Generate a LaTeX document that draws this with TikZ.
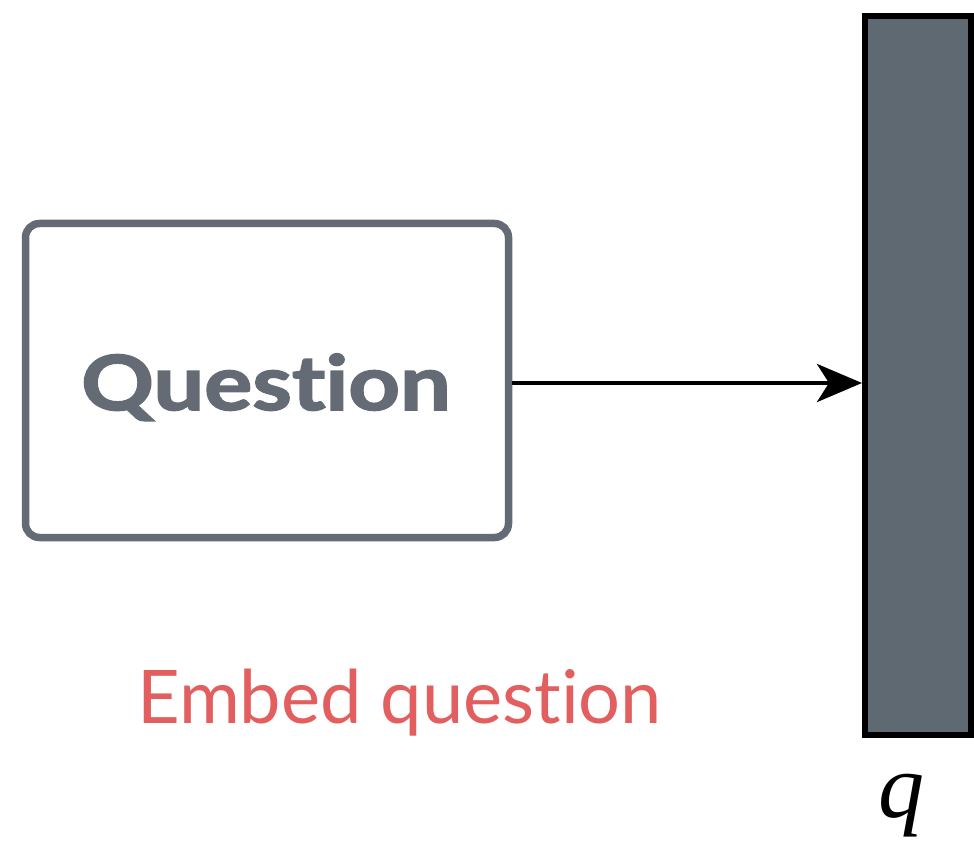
\documentclass[tikz,border=0pt]{standalone}
\usepackage{fontspec}
\setmainfont{Liberation Serif}
\newfontfamily\lato[Ligatures={NoCommon,NoDiscretionary}]{Lato}
\newfontfamily\latoheavy[Ligatures={NoCommon,NoDiscretionary},FakeBold=2]{Lato Bold}
\usetikzlibrary{arrows.meta}
\definecolor{boxgrey}{HTML}{646B75}
\definecolor{barfill}{HTML}{5F6972}
\definecolor{embred}{HTML}{E35F5F}
\tikzset{
  qbox/.style={draw=boxgrey, line width=7.5pt, rounded corners=14pt, fill=white,
    minimum width=483pt, minimum height=314pt, inner sep=0pt},
  vecbar/.style={draw=black, fill=barfill, line width=6pt,
    minimum width=106pt, minimum height=719pt, inner sep=0pt},
  flow/.style={line width=4.5pt, -{Stealth[length=45pt,width=38pt,inset=12pt]}},
}
\begin{document}
\begin{tikzpicture}[x=1pt,y=-1pt]
\useasboundingbox (0,0) rectangle (974,842);
\node[qbox] (box) at (267,380.5) {};
\node[anchor=base west, text=boxgrey, inner sep=0pt] (qlabel) at (81,410)
  {\scalebox{1.185}[1]{\latoheavy\fontsize{76}{76}\selectfont Question}};
\node[vecbar] (bar) at (918,375.5) {};
\coordinate (arr) at (0,383);
\draw[flow] (box.east |- arr) -- (bar.west |- arr);
\node[anchor=base west, text=embred, inner sep=0pt] (embed) at (137,723)
  {\lato\fontsize{74}{74}\selectfont Embed question};
\node[anchor=base, inner sep=0pt] (q) at (901,817)
  {\fontsize{92}{92}\selectfont\itshape q};
\end{tikzpicture}
\end{document}
